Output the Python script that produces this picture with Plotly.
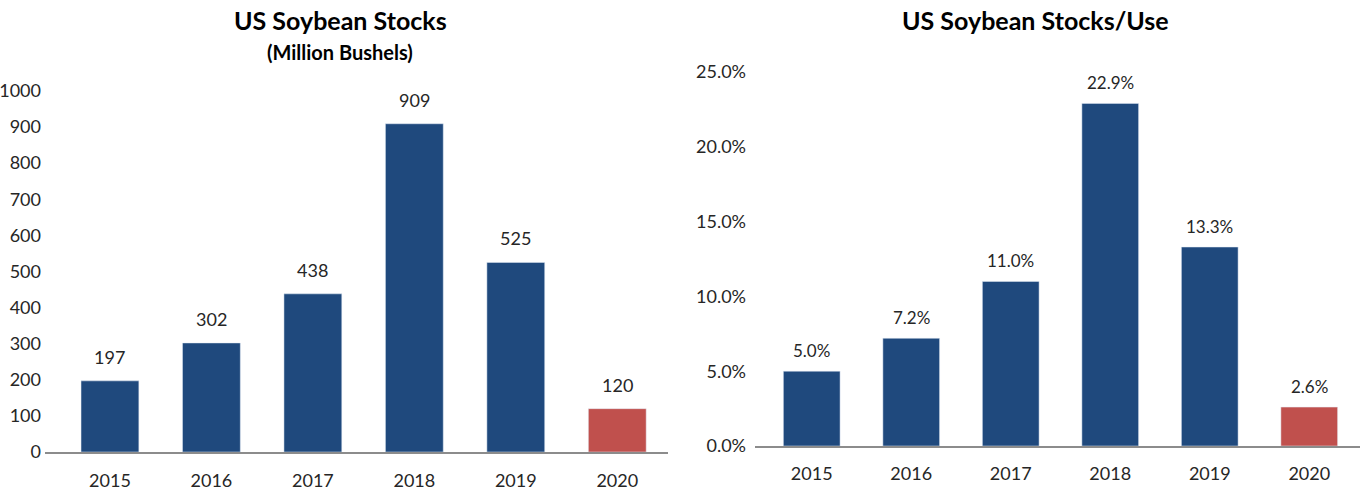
import plotly.graph_objects as go

years = ["2015", "2016", "2017", "2018", "2019", "2020"]
stocks = [197, 302, 438, 909, 525, 120]
stocks_use = [5.0, 7.2, 11.0, 22.9, 13.3, 2.6]
left_ticks = [0, 100, 200, 300, 400, 500, 600, 700, 800, 900, 1000]
right_ticks = [0, 5, 10, 15, 20, 25]

NAVY = "#1F497D"
RED = "#C0504D"
TEXT = "#262626"
FONT = "Lato, Carlito, sans-serif"

W, H = 1360, 494
bar_colors = [NAVY] * (len(years) - 1) + [RED]

fig = go.Figure()
fig.add_trace(go.Bar(x=years, y=stocks, marker_color=bar_colors, width=0.57,
                     xaxis="x", yaxis="y", hoverinfo="x+y"))
fig.add_trace(go.Bar(x=years, y=stocks_use, marker_color=bar_colors, width=0.57,
                     xaxis="x2", yaxis="y2", hoverinfo="x+y"))

# value labels above each bar (x given as category index)
annotations = []
for i, v in enumerate(stocks):
    annotations.append(dict(x=i, y=v, xref="x", yref="y", text=f"{v}",
                            showarrow=False, yanchor="bottom", yshift=11,
                            font=dict(size=18, color=TEXT, family=FONT)))
for i, v in enumerate(stocks_use):
    annotations.append(dict(x=i, y=v, xref="x2", yref="y2", text=f"{v:.1f}%",
                            showarrow=False, yanchor="bottom", yshift=8,
                            font=dict(size=17, color=TEXT, family=FONT)))

annotations += [
    dict(x=340 / W, y=1 - 20 / H, xref="paper", yref="paper", xanchor="center",
         yanchor="middle", text="<b>US Soybean Stocks</b>", showarrow=False,
         font=dict(size=25, color="#000", family=FONT)),
    dict(x=340 / W, y=1 - 52 / H, xref="paper", yref="paper", xanchor="center",
         yanchor="middle", text="<b>(Million Bushels)</b>", showarrow=False,
         font=dict(size=20, color="#000", family=FONT)),
    dict(x=1035 / W, y=1 - 20 / H, xref="paper", yref="paper", xanchor="center",
         yanchor="middle", text="<b>US Soybean Stocks/Use</b>", showarrow=False,
         font=dict(size=25, color="#000", family=FONT)),
]

axis_font = dict(size=18, color=TEXT, family=FONT)

fig.update_layout(
    width=W, height=H,
    margin=dict(l=0, r=0, t=0, b=0),
    paper_bgcolor="white", plot_bgcolor="white",
    showlegend=False,
    annotations=annotations,
    xaxis=dict(domain=[45 / W, 668 / W], range=[-0.64, 5.5], type="category",
               showgrid=False, showline=True, linecolor="#8C8C8C", linewidth=1.5,
               ticks="", tickfont=axis_font, ticklabelstandoff=12, fixedrange=True,
               automargin=False),
    yaxis=dict(domain=[1 - 452 / H, 1 - 75 / H], range=[0, 1044], showgrid=False,
               showline=False, zeroline=False, tickvals=left_ticks, ticks="",
               tickfont=axis_font, ticklabelstandoff=3, fixedrange=True,
               automargin=False),
    xaxis2=dict(domain=[755 / W, 1.0], range=[-0.57, 5.51], type="category",
                showgrid=False, showline=True, linecolor="#8C8C8C", linewidth=1.5,
                ticks="", tickfont=axis_font, ticklabelstandoff=11, fixedrange=True,
                anchor="y2", automargin=False),
    yaxis2=dict(domain=[1 - 446 / H, 1 - 60 / H], range=[0, 25.8], showgrid=False,
                showline=False, zeroline=False, tickvals=right_ticks,
                ticktext=[f"{t:.1f}%" for t in right_ticks], ticks="",
                tickfont=axis_font, ticklabelstandoff=8, fixedrange=True, anchor="x2",
                automargin=False),
)

fig.write_html("out.html")
